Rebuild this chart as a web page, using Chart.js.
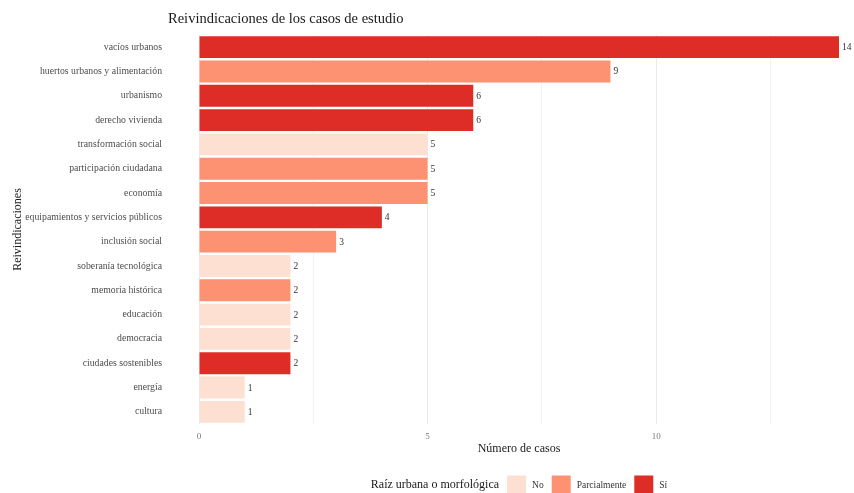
<!DOCTYPE html>
<html>
<head>
<meta charset="utf-8">
<script src="https://cdn.jsdelivr.net/npm/chart.js@4/dist/chart.umd.min.js"></script>
<style>
  html, body { margin: 0; padding: 0; background: #ffffff; }
  #wrap { width: 854px; height: 493px; position: relative; }
</style>
</head>
<body>
<div id="wrap"><canvas id="c" width="854" height="493"></canvas></div>
<script>
// ---- Data ----
const categories = [
  "vacíos urbanos",
  "huertos urbanos y alimentación",
  "urbanismo",
  "derecho vivienda",
  "transformación social",
  "participación ciudadana",
  "economía",
  "equipamientos y servicios públicos",
  "inclusión social",
  "soberanía tecnológica",
  "memoria histórica",
  "educación",
  "democracia",
  "ciudades sostenibles",
  "energía",
  "cultura"
];
const values = [14, 9, 6, 6, 5, 5, 5, 4, 3, 2, 2, 2, 2, 2, 1, 1];
const roots = ["Sí", "Parcialmente", "Sí", "Sí", "No", "Parcialmente", "Parcialmente", "Sí",
               "Parcialmente", "No", "Parcialmente", "No", "No", "Sí", "No", "No"];
const groups = ["No", "Parcialmente", "Sí"];
const xTickValues = [0, 2.5, 5, 7.5, 10, 12.5];

const chartTitle = "Reivindicaciones de los casos de estudio";
const legendTitle = "Raíz urbana o morfológica";
const xTitle = "Número de casos";
const yTitle = "Reivindicaciones";

// ---- Styles ----
const groupColors = { "No": "#fee0d2", "Parcialmente": "#fc9272", "Sí": "#de2d26" };
const FONT = "'Liberation Serif', 'DejaVu Serif', serif";

const datasets = groups.map(g => ({
  label: g,
  data: values.map((v, i) => roots[i] === g ? v : null),
  backgroundColor: groupColors[g],
  borderWidth: 0,
  barPercentage: 0.9,
  categoryPercentage: 1.0
}));

const decorPlugin = {
  id: 'decor',
  afterDatasetsDraw(chart) {
    const ctx = chart.ctx;
    ctx.save();
    ctx.font = "9.5px " + FONT;
    ctx.fillStyle = "#333333";
    ctx.textAlign = "left";
    ctx.textBaseline = "middle";
    chart.data.datasets.forEach((ds, di) => {
      const meta = chart.getDatasetMeta(di);
      meta.data.forEach((el, i) => {
        const v = ds.data[i];
        if (v === null || v === undefined) return;
        ctx.fillText(String(v), el.x + 3, el.y + 0.5);
      });
    });
    ctx.restore();
  },
  afterDraw(chart) {
    const ctx = chart.ctx;
    const ca = chart.chartArea;
    ctx.save();
    // Title
    ctx.font = "14.5px " + FONT;
    ctx.fillStyle = "#1a1a1a";
    ctx.textAlign = "left";
    ctx.textBaseline = "middle";
    ctx.fillText(chartTitle, 168, 19);

    // Legend
    const ly = 485;
    const box = 19;
    ctx.font = "12px " + FONT;
    const tw = ctx.measureText(legendTitle).width;
    ctx.font = "9.5px " + FONT;
    const lw = groups.map(g => ctx.measureText(g).width);
    const gapTitle = 8, gapBoxText = 6, gapItem = 8;
    let total = tw + gapTitle;
    lw.forEach((w, i) => { total += box + gapBoxText + w + (i < lw.length - 1 ? gapItem : 0); });
    let x = (ca.left + ca.right) / 2 - total / 2;
    ctx.font = "12px " + FONT;
    ctx.fillStyle = "#1a1a1a";
    ctx.fillText(legendTitle, x, ly);
    x += tw + gapTitle;
    ctx.font = "9.5px " + FONT;
    groups.forEach((g, i) => {
      ctx.fillStyle = groupColors[g];
      ctx.fillRect(x, ly - box / 2, box, box);
      x += box + gapBoxText;
      ctx.fillStyle = "#333333";
      ctx.fillText(g, x, ly);
      x += lw[i] + gapItem;
    });
    ctx.restore();
  }
};

new Chart(document.getElementById('c'), {
  type: 'bar',
  data: { labels: categories, datasets: datasets },
  options: {
    indexAxis: 'y',
    responsive: false,
    animation: false,
    layout: { padding: { top: 35, right: 15, left: 5, bottom: 33 } },
    plugins: {
      legend: { display: false },
      title: { display: false },
      tooltip: { enabled: false }
    },
    scales: {
      x: {
        type: 'linear',
        min: 0,
        max: 14,
        stacked: true,
        afterBuildTicks(scale) { scale.ticks = xTickValues.map(v => ({ value: v })); },
        afterFit(scale) { scale.height = 36; },
        border: { display: false },
        grid: {
          drawTicks: false,
          color: (c) => (c.tick && c.tick.value % 5 === 0) ? '#ebebeb' : '#f3f3f3',
          lineWidth: 1
        },
        ticks: {
          padding: 7,
          color: '#7a7a7a',
          font: { family: FONT, size: 9 },
          callback: (v) => (v % 5 === 0 ? String(v) : '')
        },
        title: {
          display: true,
          text: xTitle,
          color: '#1a1a1a',
          font: { family: FONT, size: 12 },
          padding: { top: 0, bottom: 4 }
        }
      },
      y: {
        stacked: true,
        afterFit(scale) {
          scale.width = 194;
          scale.paddingTop = 0;
          scale.paddingBottom = 0;
        },
        border: { display: false },
        grid: { display: false, drawTicks: false },
        ticks: {
          autoSkip: false,
          padding: 37,
          color: '#4d4d4d',
          font: { family: FONT, size: 9.75 }
        },
        title: {
          display: true,
          text: yTitle,
          color: '#1a1a1a',
          font: { family: FONT, size: 12 },
          padding: { top: 6, bottom: 0 }
        }
      }
    }
  },
  plugins: [decorPlugin]
});
</script>
</body>
</html>
